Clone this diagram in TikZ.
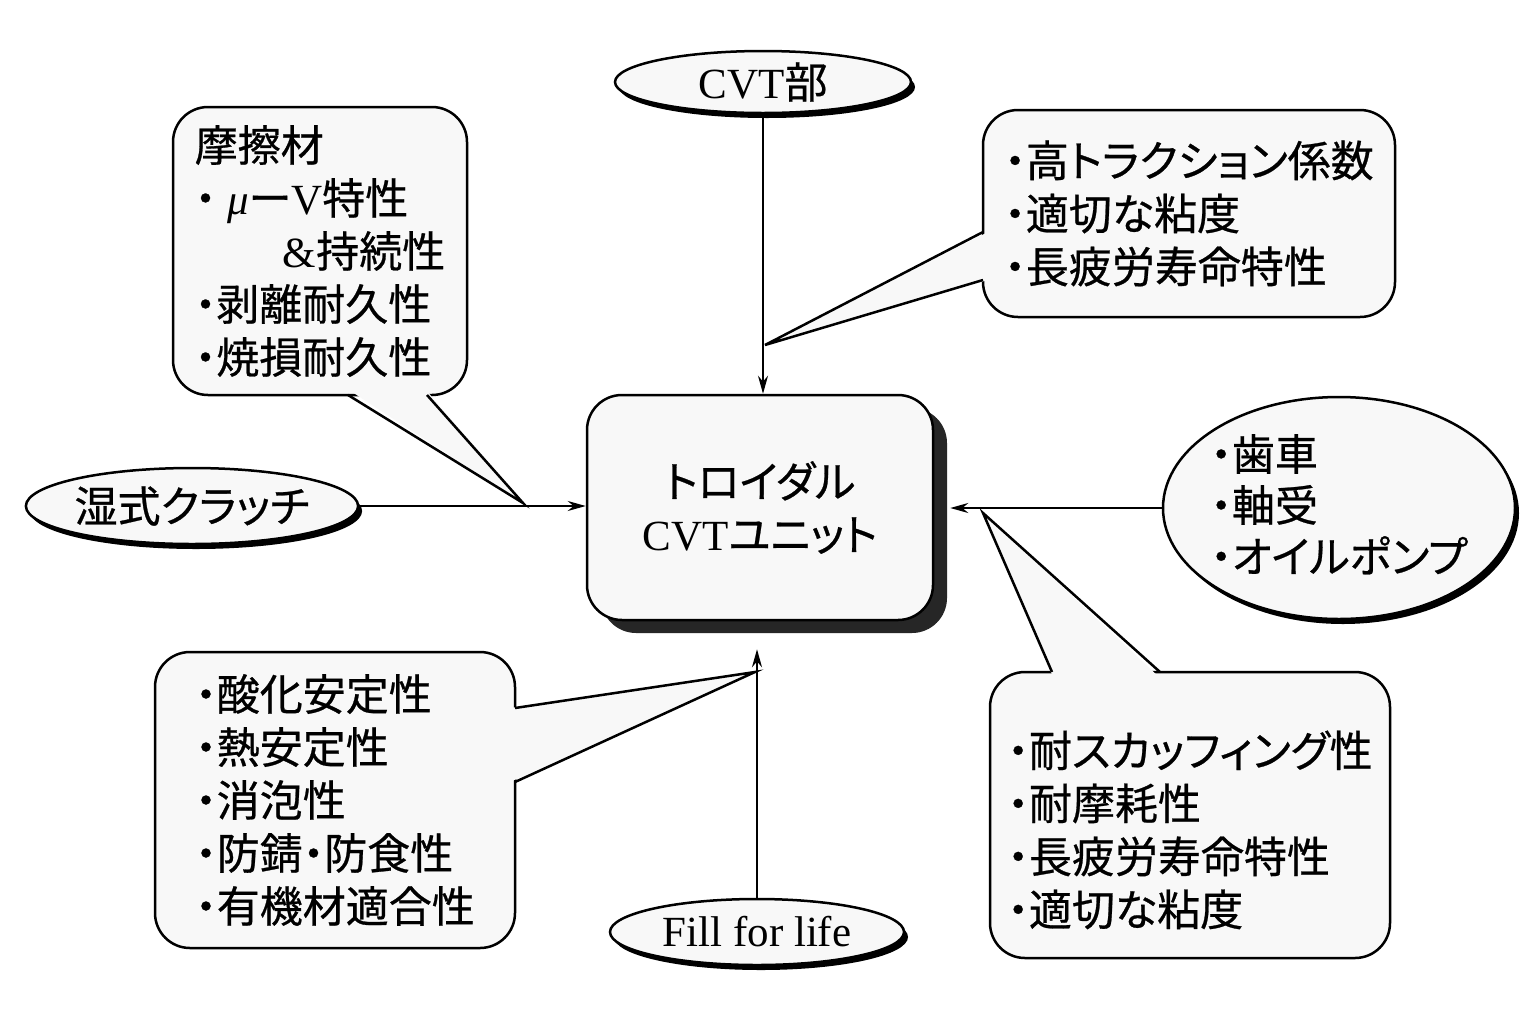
\documentclass[tikz,border=0pt]{standalone}
\usepackage{fontspec}
\setmainfont{Liberation Serif}
\newfontfamily\jp[RawFeature={+palt},FakeBold=0.6]{Noto Sans CJK JP}
\usetikzlibrary{shapes.geometric,shadows,arrows.meta}
\definecolor{boxfill}{RGB}{248,248,248}
\newcommand{\la}[1]{{\rmfamily #1}}
\newcommand{\zerobox}[1]{\makebox[0pt]{\smash{\renewcommand\arraystretch{0.93}\begin{tabular}{@{}l@{}}#1\end{tabular}}}}
\begin{document}
\begin{tikzpicture}[x=1pt,y=-1pt,
  txt/.style={font={\fontsize{43}{53}\selectfont\jp}},
  oval/.style={txt, ellipse, draw, line width=2.5pt, fill=boxfill, inner sep=0pt,
    drop shadow={shadow xshift=4pt, shadow yshift=-5pt, fill=black, opacity=1}},
  unitbox/.style={txt, rectangle, rounded corners=35pt, draw, line width=2.5pt, fill=boxfill,
    align=center, inner sep=0pt,
    drop shadow={shadow xshift=14pt, shadow yshift=-13pt, fill=black!85, opacity=1}},
  callout/.style={txt, rectangle, rounded corners=35pt, draw, line width=2.5pt, fill=boxfill,
    align=left, inner sep=0pt},
  tail/.style={line width=2.5pt, line join=miter},
  arrow/.style={line width=2pt, -{Stealth[length=18pt,width=10pt]}}
]
\useasboundingbox (0,0) rectangle (1539,1026);
\fill[white] (0,0) rectangle (1539,1026);

% central unit
\node[unitbox, minimum width=346pt, minimum height=225pt] (unit) at (760,507.5)
  {トロイダル\\\la{CVT}ユニット};

% ellipses
\node[oval, minimum width=296pt, minimum height=62pt] (cvt) at (763,82) {\la{CVT}部};
\node[oval, minimum width=304pt, minimum height=76pt] (clutch) at (192,506) {湿式クラッチ};
\node[oval, minimum width=352pt, minimum height=222pt] (gear) at (1339,508)
  {\raisebox{-18pt}{\zerobox{・歯車\\・軸受\\・オイルポンプ}}};
\node[oval, minimum width=294pt, minimum height=66pt, font={\fontsize{43}{53}\selectfont\rmfamily}] (fill) at (757,932) {Fill for life};

% helper coordinates
\coordinate (unitR) at ([xshift=16pt]unit.east);
\coordinate (unitB) at ([yshift=-28pt]unit.south);

% connectors
\draw[arrow] (cvt.south) -- (cvt.south |- unit.north);
\draw[arrow] (clutch.east) -- (clutch.east -| unit.west);
\draw[arrow] (gear.west) -- (gear.west -| unitR);
\draw[arrow] (fill.north) -- (fill.north |- unitB);

% callout: friction material
\node[callout, minimum width=294pt, minimum height=288pt] (fric) at (320,251)
  {摩擦材\\
   ・\hspace{11pt}{\rmfamily\itshape μ}ー\la{V}特性\\
   \hspace*{88pt}\la{\&}持続性\\
   ・剥離耐久性\\
   ・焼損耐久性};
\coordinate (fricTip) at (523,503);
\fill[boxfill] (349,390) -- (fricTip) -- (426,390) -- cycle;
\draw[tail] (348,395) -- (fricTip) -- (427,395);

% callout: traction
\node[callout, minimum width=412pt, minimum height=207pt] (trac) at (1189,213.5)
  {・高トラクション係数\\
   ・適切な粘度\\
   ・長疲労寿命特性};
\coordinate (tracTip) at (765,345);
\fill[boxfill] (988,232) -- (tracTip) -- (988,280) -- cycle;
\draw[tail] (983,232) -- (tracTip) -- (983,280);

% callout: oil properties
\node[callout, minimum width=360pt, minimum height=296pt] (oil) at (335,800)
  {・酸化安定性\\
   ・熱安定性\\
   ・消泡性\\
   ・防錆・防食性\\
   ・有機材適合性};
\coordinate (oilTip) at (755,672);
\fill[boxfill] (510,708) -- (oilTip) -- (510,782) -- cycle;
\draw[tail] (515,708) -- (oilTip) -- (515,782);

% callout: scuffing
\node[callout, minimum width=400pt, minimum height=286pt] (scuf) at (1190,815)
  {\rule{0pt}{66pt}・耐スカッフィング性\\
   ・耐摩耗性\\
   ・長疲労寿命特性\\
   ・適切な粘度};
\coordinate (scufTip) at (983,513);
\fill[boxfill] (1053,677) -- (scufTip) -- (1159,677) -- cycle;
\draw[tail] (1052,672) -- (scufTip) -- (1160,672);
\end{tikzpicture}
\end{document}
